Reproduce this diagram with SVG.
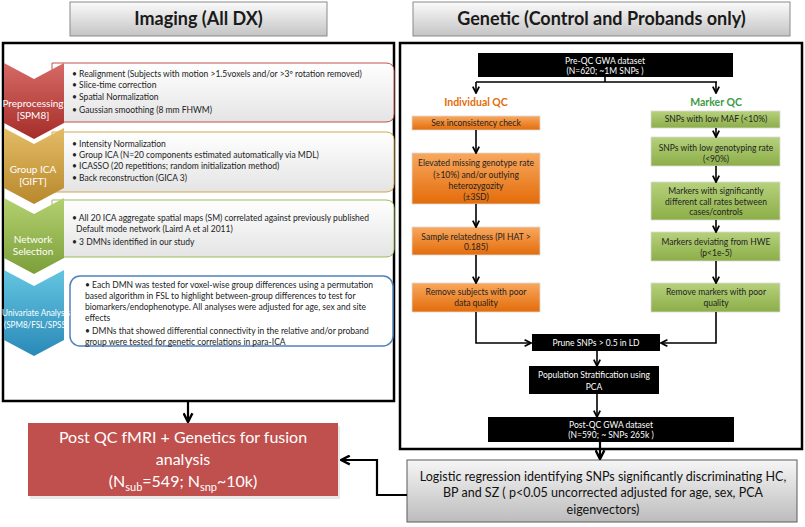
<svg xmlns="http://www.w3.org/2000/svg" width="805" height="527" viewBox="0 0 805 527">
<style>
text { font-family: Lato, "Open Sans", "Liberation Sans", sans-serif; }
.hdr { font-size: 18px; font-weight: bold; fill: #1a1a1a; text-anchor: middle; }
.ct { font-size: 8.5px; fill: #222; }
.cw { font-size: 10px; fill: #fff; text-anchor: middle; }
.bx { font-size: 8.5px; fill: #222; text-anchor: middle; }
.bw { font-size: 8.5px; fill: #fff; text-anchor: middle; }
.panel { fill: #fff; stroke: #000; stroke-width: 2.5; }
.ob { fill: url(#gOr); stroke: #d9d9d9; stroke-width: 0.8; }
.gb { fill: url(#gGr); stroke: #d9d9d9; stroke-width: 0.8; }
.kb { fill: #000; }
.conn path { fill: none; stroke: #000; stroke-width: 1.6; }
.conn path.thick { stroke-width: 2.2; }
</style>
<defs>
<linearGradient id="gHdr" x1="0" y1="0" x2="0" y2="1"><stop offset="0" stop-color="#fbfbfb"/><stop offset="1" stop-color="#c4c4c4"/></linearGradient>
<linearGradient id="gBox" x1="0" y1="0" x2="0" y2="1"><stop offset="0" stop-color="#ffffff"/><stop offset="1" stop-color="#e4e4e4"/></linearGradient>
<linearGradient id="gRed" x1="0" y1="0" x2="0" y2="1"><stop offset="0" stop-color="#d66a66"/><stop offset="1" stop-color="#a52d29"/></linearGradient>
<linearGradient id="gGold" x1="0" y1="0" x2="0" y2="1"><stop offset="0" stop-color="#e3bc66"/><stop offset="1" stop-color="#b8882c"/></linearGradient>
<linearGradient id="gGrn" x1="0" y1="0" x2="0" y2="1"><stop offset="0" stop-color="#b4d070"/><stop offset="1" stop-color="#7c9f3a"/></linearGradient>
<linearGradient id="gBlu" x1="0" y1="0" x2="0" y2="1"><stop offset="0" stop-color="#64c4e0"/><stop offset="1" stop-color="#2a8ab8"/></linearGradient>
<linearGradient id="gOr" x1="0" y1="0" x2="0" y2="1"><stop offset="0" stop-color="#f9a85e"/><stop offset="1" stop-color="#e36c0a"/></linearGradient>
<linearGradient id="gGr" x1="0" y1="0" x2="0" y2="1"><stop offset="0" stop-color="#b6d17c"/><stop offset="1" stop-color="#8cae48"/></linearGradient>
<linearGradient id="gLog" x1="0" y1="0" x2="0" y2="1"><stop offset="0" stop-color="#f6f6f6"/><stop offset="1" stop-color="#bcbcbc"/></linearGradient>
<marker id="ah" viewBox="0 0 10 10" refX="9" refY="5" markerWidth="5" markerHeight="5" orient="auto"><path d="M1,1 L9,5 L1,9" fill="none" stroke="#000" stroke-width="2.2"/></marker>
</defs>

<!-- headers -->
<g id="hdr-imaging">
<rect x="70" y="2" width="257" height="34" fill="url(#gHdr)" stroke="#8a8a8a" stroke-width="1"/>
<text class="hdr" x="198.5" y="25">Imaging (All DX)</text>
</g>
<g id="hdr-genetic">
<rect x="413" y="2" width="377" height="34" fill="url(#gHdr)" stroke="#8a8a8a" stroke-width="1"/>
<text class="hdr" x="601.5" y="25">Genetic (Control and Probands only)</text>
</g>

<!-- panels -->
<rect id="panel-imaging" class="panel" x="3" y="43" width="391" height="358"/>
<rect id="panel-genetic" class="panel" x="400" y="43" width="402" height="406"/>

<!-- left: preprocessing -->
<g id="preprocessing">
<path d="M52,63 H386 Q394,63 394,71 V114 Q394,122 386,122 H52 Z" fill="url(#gBox)" stroke="#c0504d" stroke-width="1"/>
<path d="M4,63 L34,79 L64,63 L64,123 L34,139 L4,123 Z" fill="url(#gRed)"/>
<text class="cw" x="33" y="107">Preprocessing</text>
<text class="cw" x="33" y="119">[SPM8]</text>
<text class="ct" x="72" y="77">• Realignment (Subjects with motion &gt;1.5voxels and/or &gt;3º rotation removed)</text>
<text class="ct" x="72" y="88">• Slice-time correction</text>
<text class="ct" x="72" y="100">• Spatial Normalization</text>
<text class="ct" x="72" y="113">• Gaussian smoothing (8 mm FHWM)</text>
</g>

<g id="group-ica">
<path d="M52,132 H386 Q394,132 394,140 V184 Q394,192 386,192 H52 Z" fill="url(#gBox)" stroke="#d0a848" stroke-width="1"/>
<path d="M4,128 L34,144 L64,128 L64,188 L34,204 L4,188 Z" fill="url(#gGold)"/>
<text class="cw" x="33" y="173">Group ICA</text>
<text class="cw" x="33" y="185">[GIFT]</text>
<text class="ct" x="72" y="147">• Intensity Normalization</text>
<text class="ct" x="72" y="158">• Group ICA (N=20 components estimated automatically via MDL)</text>
<text class="ct" x="72" y="169">• ICASSO (20 repetitions; random initialization method)</text>
<text class="ct" x="72" y="181">• Back reconstruction (GICA 3)</text>
</g>

<g id="network-selection">
<path d="M52,200 H386 Q394,200 394,208 V249 Q394,257 386,257 H52 Z" fill="url(#gBox)" stroke="#9bbb59" stroke-width="1"/>
<path d="M4,198 L34,214 L64,198 L64,258 L34,274 L4,258 Z" fill="url(#gGrn)"/>
<text class="cw" x="33" y="243">Network</text>
<text class="cw" x="33" y="255">Selection</text>
<text class="ct" x="72" y="221">• All 20 ICA aggregate spatial maps (SM) correlated against previously published</text>
<text class="ct" x="76" y="232">Default mode network (Laird A et al 2011)</text>
<text class="ct" x="72" y="245">• 3 DMNs identified in our study</text>
</g>

<g id="univariate">
<path d="M4,270 L34,286 L64,270 L64,340 L34,356 L4,340 Z" fill="url(#gBlu)"/>
<rect x="70" y="276" width="323" height="70" rx="10" fill="#fff" stroke="#4f81bd" stroke-width="1.5"/>
<text x="36" y="316" font-size="8.5" fill="#fff" text-anchor="middle" textLength="68" lengthAdjust="spacingAndGlyphs">Univariate Analysis</text>
<text x="36" y="328" font-size="8.5" fill="#fff" text-anchor="middle" textLength="64" lengthAdjust="spacingAndGlyphs">(SPM8/FSL/SPSS)</text>
<text class="ct" x="85" y="288">• Each DMN was tested for voxel-wise group differences using a permutation</text>
<text class="ct" x="85" y="299">based algorithm in FSL to highlight between-group differences to test for</text>
<text class="ct" x="85" y="310">biomarkers/endophenotype. All analyses were  adjusted for age, sex and site</text>
<text class="ct" x="85" y="321">effects</text>
<text class="ct" x="85" y="334">•  DMNs that showed differential connectivity in the relative and/or proband</text>
<text class="ct" x="85" y="345">group were tested for genetic correlations in para-ICA</text>
</g>

<!-- bottom nodes -->
<g id="post-qc-fusion">
<rect x="30" y="426" width="310" height="73" fill="#d9d9d9" opacity="0.6"/>
<rect x="28" y="423" width="310" height="73" fill="#c0504d"/>
<text x="183" y="443" font-size="16" fill="#fff" text-anchor="middle">Post QC fMRI + Genetics for fusion</text>
<text x="183" y="465" font-size="16" fill="#fff" text-anchor="middle">analysis</text>
<text x="183" y="487" font-size="16" fill="#fff" text-anchor="middle">(N<tspan font-size="11" dy="4">sub</tspan><tspan dy="-4">=549; N</tspan><tspan font-size="11" dy="4">snp</tspan><tspan dy="-4">~10k)</tspan></text>
</g>

<g id="logistic">
<rect x="407" y="460" width="390" height="62" fill="url(#gLog)" stroke="#5a5a5a" stroke-width="1"/>
<text x="603" y="481" font-size="12.5" fill="#111" text-anchor="middle">Logistic regression identifying SNPs significantly discriminating HC,</text>
<text x="603" y="497" font-size="12.5" fill="#111" text-anchor="middle">BP and SZ ( p&lt;0.05 uncorrected adjusted for age, sex, PCA</text>
<text x="603" y="514" font-size="12.5" fill="#111" text-anchor="middle">eigenvectors)</text>
</g>

<!-- right panel nodes -->
<g id="pre-qc">
<rect class="kb" x="478" y="53" width="255" height="24"/>
<text class="bw" x="605" y="64">Pre-QC GWA dataset</text>
<text class="bw" x="605" y="74">(N=620; ~1M SNPs )</text>
</g>
<text id="lbl-individual" x="476" y="106" font-size="10.5" font-weight="bold" fill="#e36c0a" text-anchor="middle">Individual QC</text>
<text id="lbl-marker" x="716" y="106" font-size="10.5" font-weight="bold" fill="#3e9a46" text-anchor="middle">Marker QC</text>

<g id="sex-check"><rect class="ob" x="412" y="116" width="128" height="14"/><text class="bx" x="476" y="126">Sex inconsistency check</text></g>
<g id="missing-rate"><rect class="ob" x="412" y="153" width="128" height="51"/>
<text class="bx" x="476" y="166">Elevated missing genotype rate</text>
<text class="bx" x="476" y="178">(≥10%) and/or outlying</text>
<text class="bx" x="476" y="189">heterozygozity</text>
<text class="bx" x="476" y="200">(±3SD)</text></g>
<g id="relatedness"><rect class="ob" x="412" y="227" width="128" height="28"/>
<text class="bx" x="476" y="240">Sample relatedness (PI HAT &gt;</text>
<text class="bx" x="476" y="250">0.185)</text></g>
<g id="remove-subjects"><rect class="ob" x="412" y="283" width="128" height="29"/>
<text class="bx" x="476" y="295">Remove subjects with poor</text>
<text class="bx" x="476" y="306">data quality</text></g>

<g id="low-maf"><rect class="gb" x="651" y="111" width="129" height="17"/><text class="bx" x="716" y="122">SNPs with low MAF (&lt;10%)</text></g>
<g id="low-geno"><rect class="gb" x="651" y="137" width="129" height="29"/>
<text class="bx" x="716" y="151">SNPs with low genotyping rate</text>
<text class="bx" x="716" y="162">(&lt;90%)</text></g>
<g id="call-rates"><rect class="gb" x="651" y="182" width="129" height="38"/>
<text class="bx" x="716" y="194">Markers with significantly</text>
<text class="bx" x="716" y="205">different call rates between</text>
<text class="bx" x="716" y="215">cases/controls</text></g>
<g id="hwe"><rect class="gb" x="651" y="232" width="129" height="29"/>
<text class="bx" x="716" y="245">Markers deviating from HWE</text>
<text class="bx" x="716" y="256">(p&lt;1e-5)</text></g>
<g id="remove-markers"><rect class="gb" x="651" y="283" width="129" height="29"/>
<text class="bx" x="716" y="295">Remove markers with poor</text>
<text class="bx" x="716" y="306">quality</text></g>

<g id="prune"><rect class="kb" x="532" y="334" width="128" height="17"/><text class="bw" x="596" y="346">Prune SNPs &gt; 0.5 in LD</text></g>
<g id="pop-strat"><rect class="kb" x="529" y="366" width="130" height="28"/>
<text class="bw" x="594" y="378">Population Stratification using</text>
<text class="bw" x="594" y="390">PCA</text></g>
<g id="post-qc"><rect class="kb" x="488" y="417" width="246" height="25"/>
<text class="bw" x="611" y="428" font-size="7.5">Post-QC GWA dataset</text>
<text class="bw" x="611" y="438" font-size="7.5">(N=590; ~ SNPs 265k )</text></g>

<!-- connectors -->
<g id="connectors" class="conn">
<path d="M605,77 V82 M476,82 H717"/>
<path d="M476,82 V93" marker-end="url(#ah)"/>
<path d="M716,82 V93" marker-end="url(#ah)"/>
<path d="M476,130 V153" marker-end="url(#ah)"/>
<path d="M476,204 V227" marker-end="url(#ah)"/>
<path d="M476,255 V283" marker-end="url(#ah)"/>
<path d="M476,312 V343 H531" marker-end="url(#ah)"/>
<path d="M716,128 V137" marker-end="url(#ah)"/>
<path d="M716,166 V182" marker-end="url(#ah)"/>
<path d="M716,220 V232" marker-end="url(#ah)"/>
<path d="M716,261 V283" marker-end="url(#ah)"/>
<path d="M716,312 V343 H661" marker-end="url(#ah)"/>
<path d="M597,351 V366" marker-end="url(#ah)"/>
<path d="M597,394 V417" marker-end="url(#ah)"/>
<path class="thick" d="M600,442 V459" marker-end="url(#ah)"/>
<path class="thick" d="M188,401 V422" marker-end="url(#ah)"/>
<path class="thick" d="M407,495 H377 V460 H341" marker-end="url(#ah)"/>
</g>
</svg>
